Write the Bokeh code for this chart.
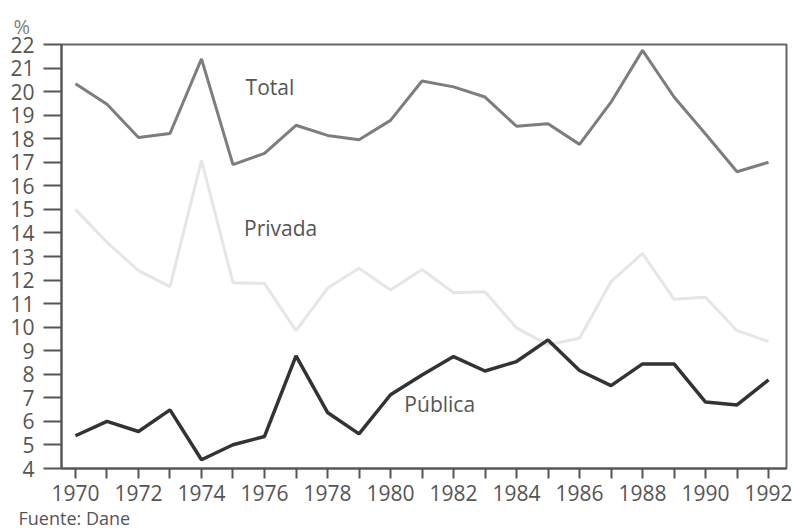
from bokeh.plotting import figure
from bokeh.models import FixedTicker, Label, Range1d, Title
from bokeh.embed import file_html
from bokeh.resources import INLINE

years = list(range(1970, 1993))
total = [20.33, 19.46, 18.05, 18.22, 21.39, 16.9, 17.38, 18.57, 18.14, 17.96, 18.78,
         20.45, 20.2, 19.77, 18.53, 18.64, 17.76, 19.55, 21.75, 19.77, 18.2, 16.6, 17.0]
privada = [15.0, 13.6, 12.4, 11.72, 17.08, 11.89, 11.85, 9.85, 11.65, 12.5, 11.58,
           12.45, 11.46, 11.5, 9.97, 9.25, 9.53, 11.93, 13.13, 11.18, 11.27, 9.85, 9.39]
publica = [5.39, 6.0, 5.57, 6.49, 4.37, 5.01, 5.36, 8.78, 6.38, 5.47, 7.13,
           7.97, 8.75, 8.14, 8.54, 9.46, 8.16, 7.52, 8.44, 8.44, 6.82, 6.7, 7.76]
y_ticks = list(range(4, 23))
x_major = list(range(1970, 1993, 2))
x_minor = list(range(1971, 1992, 2))
series_names = ["Total", "Privada", "Pública"]
unit_label = "%"
source_label = "Fuente: Dane"

FONT = "Open Sans"
TXT = "#555555"

p = figure(width=793, height=529, output_backend="svg", toolbar_location=None,
           x_range=Range1d(1969.556, 1992.57), y_range=Range1d(4, 22),
           min_border_left=61, min_border_right=7, min_border_top=44, min_border_bottom=60)
p.xgrid.visible = False
p.ygrid.visible = False
p.background_fill_color = "white"
p.border_fill_color = "white"
p.outline_line_color = "#666666"
p.outline_line_width = 2

p.line(years, total, line_color="#7d7d7d", line_width=3)
p.line(years, privada, line_color="#e6e6e6", line_width=3)
p.line(years, publica, line_color="#333333", line_width=3.5)

# axes
ya = p.yaxis[0]
ya.ticker = FixedTicker(ticks=y_ticks)
ya.major_tick_out = 18
ya.major_tick_in = 0
ya.minor_tick_out = 0
ya.major_label_standoff = 9
ya.axis_line_color = "#555555"
ya.axis_line_width = 2
ya.major_tick_line_color = "#555555"
ya.major_tick_line_width = 2
ya.major_label_text_font = FONT
ya.major_label_text_font_size = "21px"
ya.major_label_text_color = TXT

xa = p.xaxis[0]
xa.ticker = FixedTicker(ticks=x_major, minor_ticks=x_minor)
xa.major_tick_out = 10
xa.major_tick_in = 0
xa.minor_tick_out = 10
xa.minor_tick_in = 0
xa.major_label_standoff = 6
xa.axis_line_color = "#555555"
xa.axis_line_width = 2
xa.major_tick_line_color = "#555555"
xa.major_tick_line_width = 2
xa.minor_tick_line_color = "#555555"
xa.minor_tick_line_width = 2
xa.major_label_text_font = FONT
xa.major_label_text_font_size = "21px"
xa.major_label_text_color = TXT

# series labels
label_pos = [(1975.4, 20.2), (1975.35, 14.22), (1980.44, 6.72)]
for name, (lx, ly) in zip(series_names, label_pos):
    p.add_layout(Label(x=lx, y=ly, text=name, text_font=FONT, text_font_size="21px",
                       text_color=TXT, text_align="left", text_baseline="alphabetic"))

t_unit = Title(text=unit_label, align="left", offset=-48, standoff=10,
               text_font=FONT, text_font_size="20px", text_font_style="normal",
               text_color="#808080")
p.add_layout(t_unit, "above")
t_src = Title(text=source_label, align="left", offset=-43, standoff=0,
              text_font=FONT, text_font_size="18px", text_font_style="normal",
              text_color=TXT)
p.add_layout(t_src, "below")

open("out.html", "w").write(file_html(p, INLINE))
